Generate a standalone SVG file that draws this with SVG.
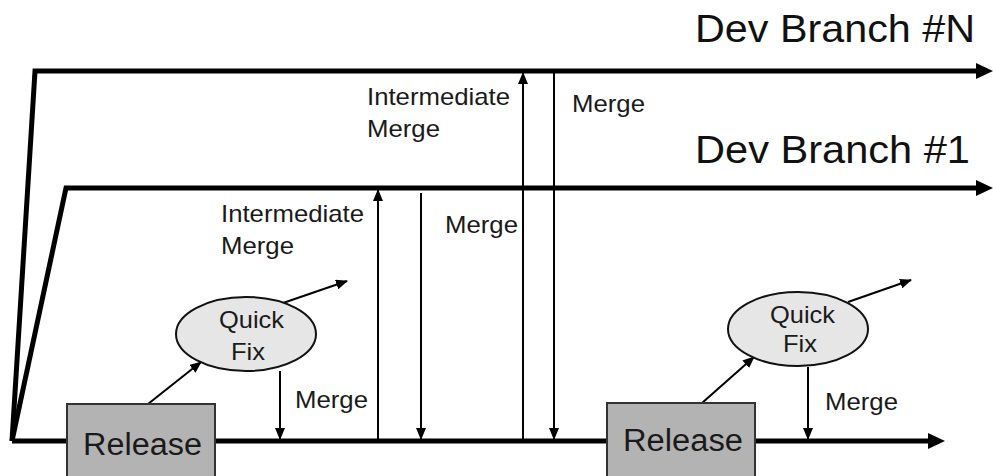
<svg xmlns="http://www.w3.org/2000/svg" width="993" height="476" viewBox="0 0 993 476">
<defs>
<marker id="big" markerUnits="userSpaceOnUse" markerWidth="18" markerHeight="18" refX="10" refY="8" orient="auto" viewBox="0 0 18 16">
<path d="M0,0 L17,8 L0,16 Z" fill="#000"/>
</marker>
<marker id="small" markerUnits="userSpaceOnUse" markerWidth="12" markerHeight="10" refX="11" refY="5" orient="auto" viewBox="0 0 12 10">
<path d="M0,0 L12,5 L0,10 Z" fill="#000"/>
</marker>
<style>
.trunk{fill:none;stroke:#000;stroke-width:5;stroke-linejoin:miter}
.thin{fill:none;stroke:#000;stroke-width:2}
.lbl{font-family:"Liberation Sans",Arial,sans-serif;font-size:24px;fill:#1a1a1a}
.rel{font-family:"Liberation Sans",Arial,sans-serif;font-size:31px;fill:#1a1a1a}
.dev{font-family:"Liberation Sans",Arial,sans-serif;font-size:39px;fill:#111}
.box{fill:#b3b3b3;stroke:#333;stroke-width:2}
.ell{fill:#e6e6e6;stroke:#111;stroke-width:2}
</style>
</defs>
<rect width="993" height="476" fill="#fff"/>
<g id="connectors">
<path class="trunk" d="M12,441 L938,441" marker-end="url(#big)"/>
<path class="trunk" d="M12,441 L35,71 L986,71" marker-end="url(#big)"/>
<path class="trunk" d="M12,441 L66,188 L986,188" marker-end="url(#big)"/>
<line class="thin" x1="148" y1="404" x2="201" y2="362" marker-end="url(#small)"/>
<line class="thin" x1="283" y1="303" x2="347" y2="281" marker-end="url(#small)"/>
<line class="thin" x1="280" y1="371" x2="280" y2="439" marker-end="url(#small)"/>
<line class="thin" x1="378" y1="440" x2="378" y2="190" marker-end="url(#small)"/>
<line class="thin" x1="421" y1="193" x2="421" y2="439" marker-end="url(#small)"/>
<line class="thin" x1="523" y1="440" x2="523" y2="73" marker-end="url(#small)"/>
<line class="thin" x1="554" y1="73" x2="554" y2="439" marker-end="url(#small)"/>
<line class="thin" x1="702" y1="403" x2="754" y2="357" marker-end="url(#small)"/>
<line class="thin" x1="848" y1="302" x2="911" y2="280" marker-end="url(#small)"/>
<line class="thin" x1="808" y1="367" x2="808" y2="439" marker-end="url(#small)"/>
</g>
<g id="labels">
<text class="dev" x="695" y="42" textLength="280" lengthAdjust="spacingAndGlyphs">Dev Branch #N</text>
<text class="dev" x="695" y="163" textLength="275" lengthAdjust="spacingAndGlyphs">Dev Branch #1</text>
<text class="lbl" x="367" y="105" textLength="143" lengthAdjust="spacingAndGlyphs">Intermediate</text>
<text class="lbl" x="367" y="137" textLength="73" lengthAdjust="spacingAndGlyphs">Merge</text>
<text class="lbl" x="221" y="222" textLength="143" lengthAdjust="spacingAndGlyphs">Intermediate</text>
<text class="lbl" x="221" y="254" textLength="73" lengthAdjust="spacingAndGlyphs">Merge</text>
<text class="lbl" x="572" y="112" textLength="73" lengthAdjust="spacingAndGlyphs">Merge</text>
<text class="lbl" x="445" y="233" textLength="73" lengthAdjust="spacingAndGlyphs">Merge</text>
<text class="lbl" x="295" y="408" textLength="73" lengthAdjust="spacingAndGlyphs">Merge</text>
<text class="lbl" x="825" y="410" textLength="73" lengthAdjust="spacingAndGlyphs">Merge</text>
</g>
<g id="release1">
<rect class="box" x="67" y="404" width="148" height="80"/>
<text class="rel" x="83" y="455" textLength="119" lengthAdjust="spacingAndGlyphs">Release</text>
</g>
<g id="release2">
<rect class="box" x="607" y="403" width="148" height="80"/>
<text class="rel" x="623" y="451" textLength="120" lengthAdjust="spacingAndGlyphs">Release</text>
</g>
<g id="quickfix1">
<ellipse class="ell" cx="246" cy="334" rx="70" ry="37"/>
<text class="lbl" x="219" y="328" textLength="65" lengthAdjust="spacingAndGlyphs">Quick</text>
<text class="lbl" x="231" y="360" textLength="34" lengthAdjust="spacingAndGlyphs">Fix</text>
</g>
<g id="quickfix2">
<ellipse class="ell" cx="798" cy="329" rx="70" ry="37"/>
<text class="lbl" x="770" y="323" textLength="65" lengthAdjust="spacingAndGlyphs">Quick</text>
<text class="lbl" x="783" y="352" textLength="34" lengthAdjust="spacingAndGlyphs">Fix</text>
</g>
</svg>
